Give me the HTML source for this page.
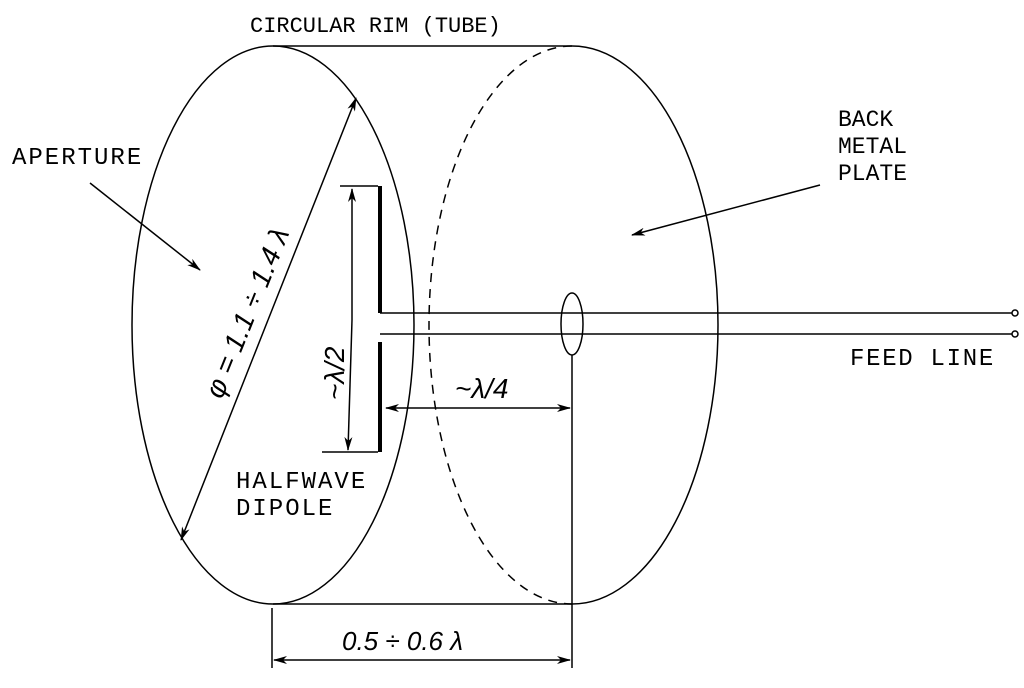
<!DOCTYPE html>
<html><head><style>body{margin:0;background:#fff}</style></head><body>
<svg width="1024" height="683" viewBox="0 0 1024 683" xmlns="http://www.w3.org/2000/svg" font-family="Liberation Mono, monospace" font-size="22" fill="#000">
<defs><marker id="a" markerWidth="14" markerHeight="8" refX="13" refY="4" orient="auto" markerUnits="userSpaceOnUse"><path d="M0,0 L14,4 L0,8 L4,4 Z" fill="#000"/></marker></defs>
<g stroke="#000" stroke-width="1.5" fill="none">
<ellipse cx="273" cy="325" rx="141" ry="279"/>
<path d="M572,46 A146,279 0 0 1 572,604"/>
<path d="M572,46 A143,279 0 0 0 572,604" stroke-dasharray="9,7"/>
<line x1="273" y1="46" x2="572" y2="46"/>
<line x1="273" y1="604" x2="572" y2="604"/>
<line x1="380" y1="186" x2="380" y2="313" stroke-width="4"/>
<line x1="380" y1="342" x2="380" y2="452" stroke-width="4"/>
<line x1="380" y1="313" x2="1012" y2="313"/>
<line x1="380" y1="334" x2="1012" y2="334"/>
<circle cx="1015" cy="313" r="3"/><circle cx="1015" cy="334" r="3"/>
<ellipse cx="572" cy="324" rx="11" ry="31"/>
<line x1="572" y1="355" x2="572" y2="668"/>
<line x1="272" y1="608" x2="272" y2="668"/>
<line x1="340" y1="186" x2="378" y2="186"/>
<line x1="322" y1="452" x2="378" y2="452"/>
<line x1="352" y1="320" x2="352" y2="189" marker-end="url(#a)"/>
<line x1="352" y1="320" x2="348" y2="450" marker-end="url(#a)"/>
<line x1="480" y1="408" x2="386" y2="408" marker-end="url(#a)"/>
<line x1="480" y1="408" x2="570" y2="408" marker-end="url(#a)"/>
<line x1="420" y1="660" x2="274" y2="660" marker-end="url(#a)"/>
<line x1="420" y1="660" x2="570" y2="660" marker-end="url(#a)"/>
<line x1="268" y1="320" x2="356" y2="98" marker-end="url(#a)"/>
<line x1="268" y1="320" x2="181" y2="540" marker-end="url(#a)"/>
<line x1="90" y1="183" x2="200" y2="270" marker-end="url(#a)"/>
<line x1="820" y1="185" x2="632" y2="235" marker-end="url(#a)"/>
</g>
<text x="250" y="32">CIRCULAR RIM (TUBE)</text>
<text x="12" y="164" font-size="24" letter-spacing="2">APERTURE</text>
<text x="838" y="126" font-size="23">BACK</text>
<text x="838" y="153" font-size="23">METAL</text>
<text x="838" y="180" font-size="23">PLATE</text>
<text x="850" y="365" font-size="24" letter-spacing="1.7">FEED LINE</text>
<text x="236" y="488" font-size="24" letter-spacing="2">HALFWAVE</text>
<text x="236" y="515" font-size="24" letter-spacing="2">DIPOLE</text>
<g font-family="Liberation Sans, sans-serif" font-style="italic" font-size="28">
<text x="0" y="0" transform="translate(222,400) rotate(-68)">φ = 1.1 ÷ 1.4 λ</text>
<text x="0" y="0" transform="translate(344,400) rotate(-90)">~λ/2</text>
<text x="455" y="398">~λ/4</text>
<text x="342" y="650" font-size="26">0.5 ÷ 0.6 λ</text>
</g>
</svg>
</body></html>
